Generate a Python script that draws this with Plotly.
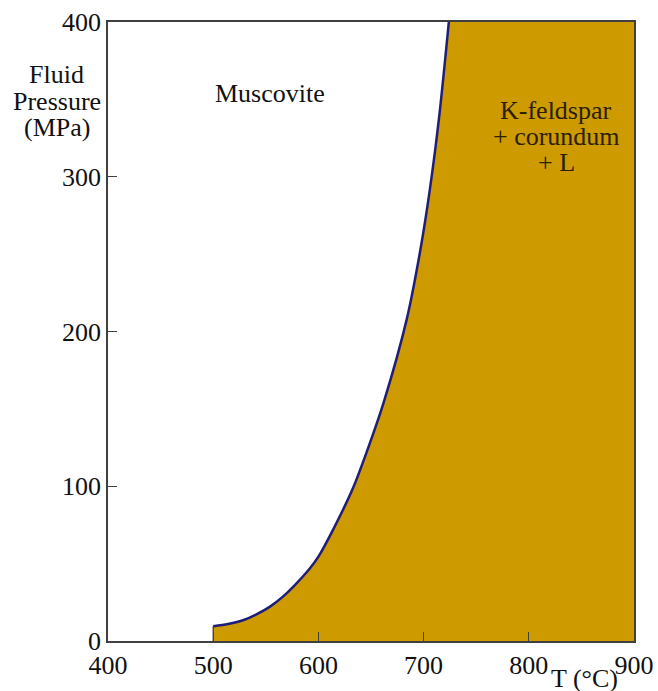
import plotly.graph_objects as go

# Phase boundary (muscovite breakdown curve)
temp_c = [500, 514, 529, 542, 554, 566, 576, 592, 600, 614, 633, 649, 662, 684, 697, 706, 715, 724]
pressure_mpa = [9.5, 11, 13.6, 17.5, 22.2, 28.5, 35, 47, 54.5, 72, 99, 128, 154, 208, 253, 292, 340, 400]

x_ticks = [400, 500, 600, 700, 800, 900]
y_ticks = [0, 100, 200, 300, 400]
x_range = [400, 900]
y_range = [0, 400]

FILL = "#CD9A00"
CURVE = "#1E1E7A"
AXIS = "#404040"
FONT = "Liberation Serif"
FS = 26

fig = go.Figure()

# filled K-feldspar + corundum + L field
poly_x = [temp_c[0]] + temp_c + [x_range[1], x_range[1], temp_c[0]]
poly_y = [y_range[0]] + pressure_mpa + [y_range[1], y_range[0], y_range[0]]
fig.add_trace(go.Scatter(x=poly_x, y=poly_y, mode="lines", fill="toself",
                         fillcolor=FILL, line=dict(width=0),
                         hoverinfo="skip", showlegend=False))

# vertical edge at 500 °C
fig.add_trace(go.Scatter(x=[temp_c[0], temp_c[0]], y=[y_range[0], pressure_mpa[0]],
                         mode="lines", line=dict(color="#333333", width=1.2),
                         showlegend=False, hoverinfo="skip"))

# boundary curve
fig.add_trace(go.Scatter(x=temp_c, y=pressure_mpa, mode="lines",
                         line=dict(color=CURVE, width=2.5, shape="spline", smoothing=0.8),
                         showlegend=False))

axis_common = dict(showgrid=False, zeroline=False, showline=True, linecolor=AXIS,
                   linewidth=1.5, mirror=True, ticks="inside", ticklen=9,
                   tickwidth=1.2, tickcolor=AXIS,
                   tickfont=dict(family=FONT, size=FS, color="#111111"))

fig.update_xaxes(range=x_range, tickvals=x_ticks, **axis_common)
fig.update_yaxes(range=y_range, tickvals=y_ticks, **axis_common)

ann_font = dict(family=FONT, size=FS, color="#111111")
inner_font = dict(family=FONT, size=FS, color="#2a2000")

annotations = [
    dict(text="Fluid", x=-0.097, y=0.915),
    dict(text="Pressure", x=-0.097, y=0.872),
    dict(text="(MPa)", x=-0.097, y=0.830),
    dict(text="T (°C)", x=0.905, y=-0.060),
]
for a in annotations:
    fig.add_annotation(xref="paper", yref="paper", showarrow=False,
                       xanchor="center", yanchor="middle", font=ann_font, **a)

fig.add_annotation(x=554, y=354, text="Muscovite", showarrow=False, font=ann_font)
for txt, yy in [("K-feldspar", 343), ("+ corundum", 326), ("+ L", 309.5)]:
    fig.add_annotation(x=826, y=yy, text=txt, showarrow=False, font=inner_font)

fig.update_layout(width=658, height=691,
                  margin=dict(l=108, r=24, t=22, b=50, autoexpand=False),
                  plot_bgcolor="white", paper_bgcolor="white",
                  font=dict(family=FONT))

fig.write_html("out.html", config={"displayModeBar": False},
               post_script="document.body.style.margin='0';document.body.style.overflow='hidden';")
